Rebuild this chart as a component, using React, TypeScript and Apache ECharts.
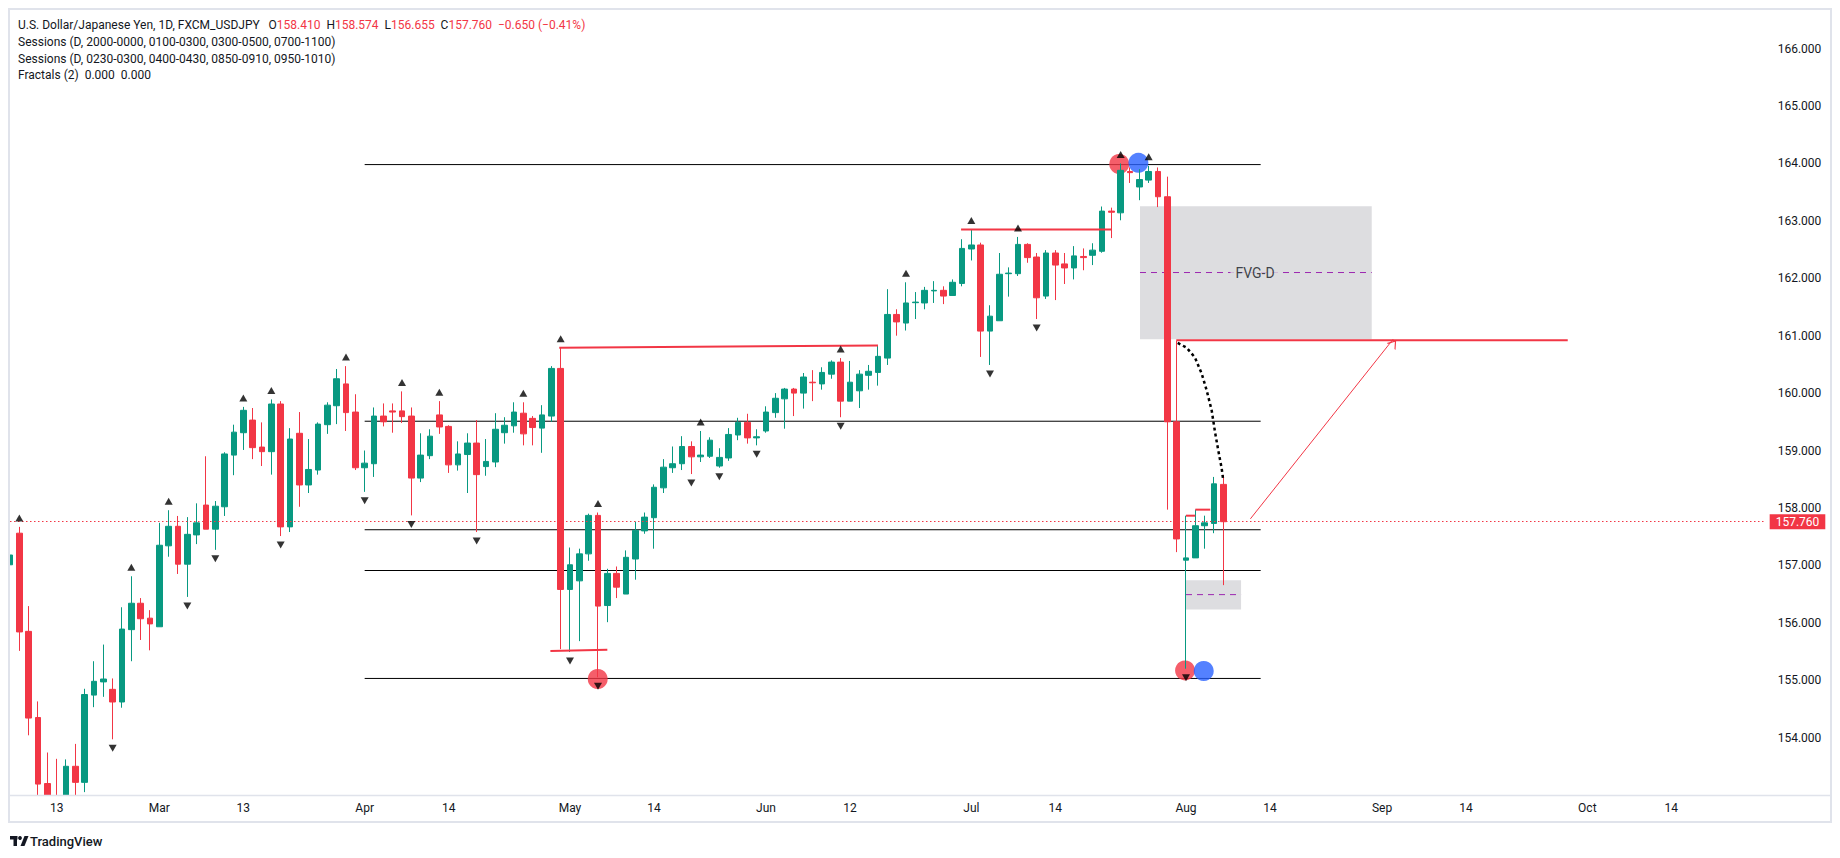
import React, { useEffect, useRef } from "react";
import * as echarts from "echarts";

// ---------- data ----------
const FIRST_DAY = "2026-02-06";
const BAR_COUNT = 189;

const opens = [157.01, 157.56, 155.85, 154.35, 153.2, 152.95, 152.9, 153.5, 153.22, 154.74, 154.97, 154.84, 154.62, 155.88, 156.34, 156.08, 155.93, 157.34, 157.68, 157.02, 157.53, 158.05, 157.63, 158.02, 158.92, 159.31, 159.53, 159.06, 158.98, 159.81, 157.67, 159.3, 158.4, 158.66, 159.45, 159.78, 160.16, 159.67, 158.7, 158.77, 159.6, 159.69, 159.69, 159.6, 158.52, 158.91, 159.62, 159.42, 158.75, 158.93, 159.13, 158.72, 158.8, 159.31, 159.43, 159.65, 159.56, 159.39, 159.6, 160.43, 156.58, 156.73, 157.2, 157.87, 156.3, 156.86, 156.5, 157.11, 157.6, 157.83, 158.35, 158.7, 158.77, 159.07, 158.89, 158.9, 158.73, 158.87, 159.27, 159.49, 159.22, 159.34, 159.66, 159.9, 160.07, 160.0, 160.19, 160.16, 160.33, 160.54, 159.86, 160.04, 160.31, 160.36, 160.61, 161.37, 161.22, 161.575, 161.57, 161.78, 161.79, 161.7, 161.91, 162.51, 162.58, 161.08, 161.26, 162.08, 162.08, 162.59, 162.37, 161.69, 162.44, 162.25, 162.18, 162.38, 162.4, 162.47, 163.17, 163.14, 163.86, 163.59, 163.71, 163.86, 163.42, 159.5, 157.09, 157.13, 157.69, 157.73, 158.41];
const closes = [157.18, 155.84, 154.34, 153.19, 152.85, 152.75, 153.5, 153.22, 154.75, 154.98, 155.02, 154.62, 155.89, 156.34, 156.07, 155.98, 157.35, 157.68, 157.02, 157.54, 157.74, 157.63, 158.03, 158.94, 159.32, 159.7, 159.05, 158.98, 159.81, 157.67, 159.2, 158.4, 158.67, 159.46, 159.79, 160.25, 159.66, 158.7, 158.78, 159.6, 159.5, 159.67, 159.59, 158.52, 158.92, 159.25, 159.41, 158.75, 158.94, 159.13, 158.58, 158.81, 159.37, 159.44, 159.67, 159.29, 159.4, 159.62, 160.43, 156.58, 157.01, 157.2, 157.87, 156.29, 156.86, 156.62, 157.14, 157.61, 157.84, 158.36, 158.71, 158.77, 159.07, 158.89, 158.92, 159.18, 158.88, 159.28, 159.49, 159.22, 159.24, 159.67, 159.91, 160.07, 160.0, 160.28, 160.18, 160.36, 160.54, 159.86, 160.19, 160.33, 160.38, 160.64, 161.37, 161.24, 161.57, 161.585, 161.79, 161.79, 161.69, 161.93, 162.52, 162.58, 161.08, 161.34, 162.07, 162.09, 162.59, 162.36, 161.66, 162.44, 162.23, 162.18, 162.39, 162.36, 162.49, 163.17, 163.15, 163.88, 163.84, 163.72, 163.86, 163.42, 159.5, 157.46, 157.13, 157.69, 157.74, 158.42, 157.76];
const lows = [156.51, 155.51, 154.04, 152.85, 152.6, 152.5, 152.7, 152.95, 153.05, 154.53, 154.71, 153.97, 154.52, 155.33, 155.7, 155.52, 155.93, 157.15, 156.85, 156.45, 157.37, 157.63, 157.27, 157.86, 158.57, 159.01, 158.85, 158.73, 158.58, 157.51, 157.58, 158.02, 158.26, 158.58, 159.29, 159.46, 159.34, 158.66, 158.28, 158.54, 159.42, 159.31, 159.48, 157.87, 158.45, 158.85, 159.29, 158.61, 158.65, 158.26, 157.58, 158.56, 158.71, 159.12, 159.31, 159.09, 159.09, 158.96, 159.5, 155.54, 155.49, 155.68, 157.08, 155.05, 156.01, 156.43, 156.5, 156.75, 157.55, 157.29, 158.26, 158.61, 158.66, 158.59, 158.8, 158.87, 158.7, 158.82, 159.18, 159.12, 159.09, 159.31, 159.57, 159.38, 159.6, 159.73, 159.86, 160.06, 160.25, 159.58, 159.86, 159.74, 160.06, 160.13, 160.49, 161.0, 161.09, 161.29, 161.46, 161.57, 161.55, 161.7, 161.86, 162.31, 160.63, 160.49, 161.26, 161.68, 162.04, 162.27, 161.29, 161.64, 161.62, 161.9, 161.98, 162.14, 162.23, 162.445, 162.7, 163.01, 163.66, 163.36, 163.66, 163.24, 157.97, 157.23, 155.2, 157.13, 157.29, 157.56, 156.655];
const highs = [157.25, 157.67, 156.29, 154.63, 153.74, 153.63, 153.62, 153.89, 154.85, 155.33, 155.62, 155.03, 156.27, 156.81, 156.43, 156.22, 157.74, 157.96, 157.86, 157.84, 158.08, 158.9, 158.12, 158.97, 159.45, 159.76, 159.74, 159.49, 159.89, 159.86, 159.39, 159.67, 159.2, 159.49, 159.84, 160.42, 160.47, 159.98, 159.0, 159.75, 159.82, 159.82, 160.03, 159.75, 159.3, 159.37, 159.86, 159.44, 159.16, 159.3, 159.53, 159.2, 159.65, 159.58, 159.84, 159.84, 159.6, 159.79, 160.47, 160.79, 157.31, 157.29, 157.9, 157.92, 156.94, 156.98, 157.26, 157.76, 157.92, 158.41, 158.85, 159.07, 159.25, 159.16, 159.34, 159.23, 159.04, 159.39, 159.57, 159.64, 159.37, 159.77, 160.0, 160.09, 160.09, 160.35, 160.4, 160.45, 160.57, 160.61, 160.56, 160.4, 160.49, 160.82, 161.81, 161.46, 161.93, 161.76, 161.85, 161.95, 161.86, 161.98, 162.68, 162.85, 162.62, 161.53, 162.44, 162.19, 162.72, 162.61, 162.44, 162.49, 162.49, 162.44, 162.56, 162.52, 162.61, 163.25, 163.23, 164.0, 163.93, 163.9, 163.96, 163.93, 163.77, 160.91, 157.865, 157.97, 157.865, 158.54, 158.574];

const tickLabels: [string, string][] = [
  ["2026-02-13", "13"], ["2026-03-02", "Mar"], ["2026-03-13", "13"], ["2026-04-01", "Apr"],
  ["2026-04-14", "14"], ["2026-05-01", "May"], ["2026-05-14", "14"], ["2026-06-01", "Jun"],
  ["2026-06-12", "12"], ["2026-07-01", "Jul"], ["2026-07-14", "14"], ["2026-08-03", "Aug"],
  ["2026-08-14", "14"], ["2026-09-01", "Sep"], ["2026-09-14", "14"], ["2026-10-01", "Oct"],
  ["2026-10-14", "14"],
];
const priceMin = 153;
const priceMax = 166.69;
const priceLabelRange = [154, 166];
const lastPrice = 157.76;

const fractalHighIdx = [1, 13, 17, 25, 28, 36, 42, 46, 55, 59, 63, 74, 89, 96, 103, 108, 119, 122];
const fractalLowIdx = [11, 19, 22, 29, 38, 43, 50, 60, 63, 73, 76, 80, 89, 105, 110, 126];

const levelPrices = [163.98, 159.51, 157.62, 156.91, 155.03];
const levelSpan = [38, 134];

const redLevelLines: number[][][] = [
  [[58.85, 160.79], [93.0, 160.83]],
  [[57.9, 155.51], [64.0, 155.53]],
  [[101.9, 162.85], [118.0, 162.85]],
  [[124.96, 160.92], [166.9, 160.92]],
  [[126.0, 157.865], [127.0, 157.865]],
  [[127.0, 157.97], [128.6, 157.97]],
];
const arrowLine = [[132.9, 157.81], [148.2, 160.94]];
const curvePoints = [
  [125.11, 160.875], [126.07, 160.79], [126.96, 160.62], [127.68, 160.34], [128.21, 160.05],
  [128.75, 159.7], [129.11, 159.32], [129.46, 159.0], [129.82, 158.69], [130.0, 158.47],
];
// boxes: [x1, top, x2, bottom]
const gapBoxes = [[121.07, 163.256, 145.9, 160.94], [126.0, 156.74, 131.9, 156.23]];
const gapMidLines = [[121.07, 145.9, 162.1], [126.0, 131.9, 156.49]];
const fvgLabel = [133.4, 162.1];
const redCircles = [[62.97, 155.02], [118.85, 163.99], [125.9, 155.17]];
const blueCircles = [[120.9, 164.01], [127.9, 155.16]];

const legendLines = [
  "Sessions (D, 2000-0000, 0100-0300, 0300-0500, 0700-1100)",
  "Sessions (D, 0230-0300, 0400-0430, 0850-0910, 0950-1010)",
  "Fractals (2)  0.000  0.000",
];

// ---------- helpers ----------
const UP = "#089981";
const DOWN = "#F23645";
const INK = "#131722";
const FRAME = "#E0E3EB";
const FONT = "Roboto, 'Noto Sans', sans-serif";

function weekdays(start: string, n: number): string[] {
  const out: string[] = [];
  const d = new Date(start + "T00:00:00Z");
  while (out.length < n) {
    const w = d.getUTCDay();
    if (w !== 0 && w !== 6) out.push(d.toISOString().slice(0, 10));
    d.setUTCDate(d.getUTCDate() + 1);
  }
  return out;
}

function buildOption() {
  const dates = weekdays(FIRST_DAY, BAR_COUNT);
  const labelByDate = new Map(tickLabels);
  const candles = opens.map((o, i) => [o, closes[i], lows[i], highs[i]]);

  const seg = (pts: number[][], color: string, width: number, type: any, z: number) => ({
    type: "line",
    xAxisIndex: 1,
    yAxisIndex: 0,
    data: pts,
    symbol: "none",
    showSymbol: false,
    silent: true,
    smooth: false,
    lineStyle: { color, width, type },
    z,
  });

  const series: any[] = [];

  // gap boxes
  series.push({
    type: "line",
    xAxisIndex: 1,
    yAxisIndex: 0,
    data: [],
    symbol: "none",
    silent: true,
    z: 1,
    markArea: {
      silent: true,
      itemStyle: { color: "#DDDDE0" },
      data: gapBoxes.map((b) => [{ coord: [b[0], b[1]] }, { coord: [b[2], b[3]] }]),
    },
  });
  gapMidLines.forEach((m) => series.push(seg([[m[0], m[2]], [m[1], m[2]]], "#9C27B0", 1, [6, 5], 2)));

  // black horizontal levels
  levelPrices.forEach((p) =>
    series.push(seg([[levelSpan[0], p], [levelSpan[1], p]], "#000000", 1, "solid", 2))
  );

  // circles
  series.push({
    type: "scatter", xAxisIndex: 1, yAxisIndex: 0, data: redCircles, symbol: "circle",
    symbolSize: 20, itemStyle: { color: "#F23645" }, silent: true, z: 3,
  });
  series.push({
    type: "scatter", xAxisIndex: 1, yAxisIndex: 0, data: blueCircles, symbol: "circle",
    symbolSize: 20, itemStyle: { color: "#2962FF" }, silent: true, z: 3,
  });

  // candles
  series.push({
    type: "candlestick",
    xAxisIndex: 0,
    yAxisIndex: 0,
    data: candles,
    barWidth: 6,
    clip: true,
    z: 4,
    itemStyle: { color: UP, color0: DOWN, borderColor: UP, borderColor0: DOWN, borderWidth: 1 },
    markLine: {
      silent: true,
      symbol: ["none", "none"],
      data: [{ yAxis: lastPrice }],
      lineStyle: { color: DOWN, width: 1, type: [1.5, 2.5] },
      label: {
        show: true,
        position: "end",
        formatter: lastPrice.toFixed(3),
        color: "#ffffff",
        backgroundColor: DOWN,
        padding: [2, 6, 1, 6],
        fontSize: 12,
        fontFamily: FONT,
        distance: 5,
      },
    },
  });

  // red trend/level lines
  redLevelLines.forEach((l) => series.push(seg(l, DOWN, 2, "solid", 5)));

  // dotted curve
  series.push(seg(curvePoints, "#000000", 2.5, [3, 3], 5));

  // arrow
  series.push({
    type: "line",
    xAxisIndex: 1,
    yAxisIndex: 0,
    data: [],
    symbol: "none",
    silent: true,
    z: 5,
    markLine: {
      silent: true,
      symbol: ["none", "path://M5,0 L10,9 L8.8,9 L5,2.3 L1.2,9 L0,9 Z"],
      symbolSize: [11, 8],
      symbolOffset: [0, 3],
      lineStyle: { color: DOWN, width: 1, type: "solid" },
      label: { show: false },
      data: [[{ coord: arrowLine[0] }, { coord: arrowLine[1] }]],
    },
  });

  // fractals
  series.push({
    type: "scatter", xAxisIndex: 0, yAxisIndex: 0,
    data: fractalHighIdx.map((i) => [i, highs[i]]),
    symbol: "triangle", symbolSize: [8, 7], symbolOffset: [0, -9],
    itemStyle: { color: "#000000" }, silent: true, z: 6,
  });
  series.push({
    type: "scatter", xAxisIndex: 0, yAxisIndex: 0,
    data: fractalLowIdx.map((i) => [i, lows[i]]),
    symbol: "triangle", symbolSize: [8, 7], symbolOffset: [0, 9], symbolRotate: 180,
    itemStyle: { color: "#000000" }, silent: true, z: 6,
  });

  // FVG label
  series.push({
    type: "scatter", xAxisIndex: 1, yAxisIndex: 0,
    data: [fvgLabel], symbolSize: 1, itemStyle: { color: "rgba(0,0,0,0)" }, silent: true, z: 7,
    label: {
      show: true, position: "inside", formatter: "FVG-D", color: INK, fontSize: 14,
      fontFamily: FONT, backgroundColor: "#DDDDE0", padding: [1, 5],
    },
  });

  const legendTitle =
    "{t|U.S. Dollar/Japanese Yen, 1D, FXCM_USDJPY}   " +
    `{t|O}{v|${opens[opens.length - 1].toFixed(3)}}  ` +
    `{t|H}{v|${highs[highs.length - 1].toFixed(3)}}  ` +
    `{t|L}{v|${lows[lows.length - 1].toFixed(3)}}  ` +
    `{t|C}{v|${closes[closes.length - 1].toFixed(3)}}  ` +
    "{v|\u22120.650 (\u22120.41%)}";

  const graphic: any[] = [
    // covers that cut candles at the pane edges
    {
      type: "rect", silent: true, z: 100,
      shape: { x: 0, y: 796, width: 1840, height: 62 },
      style: { fill: "#ffffff" },
    },
    {
      type: "rect", silent: true, z: 100,
      shape: { x: 0, y: 0, width: 9, height: 858 },
      style: { fill: "#ffffff" },
    },
    {
      type: "rect", silent: true, z: 105,
      shape: { x: 9, y: 9, width: 1822, height: 813 },
      style: { fill: "none", stroke: FRAME, lineWidth: 2 },
    },
    {
      type: "line", silent: true, z: 105,
      shape: { x1: 9, y1: 795.5, x2: 1831, y2: 795.5 },
      style: { stroke: FRAME, lineWidth: 1.5 },
    },
    {
      type: "text", x: 18, y: 25, silent: true, z: 110,
      style: {
        text: legendTitle,
        fontSize: 12, fontFamily: FONT, fill: INK, verticalAlign: "middle",
        rich: {
          t: { fill: INK, fontSize: 12, fontFamily: FONT },
          v: { fill: DOWN, fontSize: 12, fontFamily: FONT },
        },
      },
    },
    ...legendLines.map((t, k) => ({
      type: "text", x: 18, y: 42 + k * 16.6, silent: true, z: 110,
      style: { text: t, fontSize: 12, fontFamily: FONT, fill: INK, verticalAlign: "middle" },
    })),
    // TradingView logo
    { type: "rect", silent: true, z: 110, shape: { x: 10, y: 836, width: 7.5, height: 3.5 }, style: { fill: INK } },
    { type: "rect", silent: true, z: 110, shape: { x: 13.5, y: 836, width: 3.5, height: 10 }, style: { fill: INK } },
    { type: "circle", silent: true, z: 110, shape: { cx: 20, cy: 838, r: 1.9 }, style: { fill: INK } },
    {
      type: "polygon", silent: true, z: 110,
      shape: { points: [[20.5, 846], [24.5, 836], [28.5, 836], [24.5, 846]] },
      style: { fill: INK },
    },
    {
      type: "text", x: 30, y: 841, silent: true, z: 110,
      style: { text: "TradingView", fontSize: 13, fontWeight: 500, fontFamily: FONT, fill: INK, verticalAlign: "middle" },
    },
  ];

  return {
    animation: false,
    backgroundColor: "#ffffff",
    textStyle: { fontFamily: FONT },
    grid: { left: 10, right: 75.33, top: 9, bottom: 63, outerBoundsMode: "none", containLabel: false },
    xAxis: [
      {
        type: "category",
        data: dates,
        boundaryGap: false,
        z: 120,
        axisLine: { show: false },
        axisTick: { show: false },
        splitLine: { show: false },
        axisLabel: {
          interval: (_i: number, v: string) => labelByDate.has(v),
          formatter: (v: string) => labelByDate.get(v) ?? "",
          color: INK,
          fontSize: 12,
          fontFamily: FONT,
          margin: 7,
        },
      },
      { type: "value", min: 0, max: BAR_COUNT - 1, show: false },
    ],
    yAxis: {
      type: "value",
      position: "right",
      min: priceMin,
      max: priceMax,
      interval: 1,
      z: 120,
      axisLine: { show: false },
      axisTick: { show: false },
      splitLine: { show: false },
      axisLabel: {
        color: INK,
        fontSize: 12,
        fontFamily: FONT,
        margin: 13,
        formatter: (v: number) =>
          Math.abs(v - Math.round(v)) < 1e-6 && v >= priceLabelRange[0] && v <= priceLabelRange[1]
            ? v.toFixed(3)
            : "",
      },
    },
    series,
    graphic,
  };
}

export default function App() {
  const ref = useRef<HTMLDivElement>(null);
  useEffect(() => {
    if (!ref.current) return;
    const chart = echarts.init(ref.current, undefined, { renderer: "svg" });
    chart.setOption(buildOption() as any);
    return () => chart.dispose();
  }, []);
  return (
    <div
      ref={ref}
      style={{ position: "fixed", left: 0, top: 0, width: 1840, height: 858, background: "#ffffff" }}
    />
  );
}
